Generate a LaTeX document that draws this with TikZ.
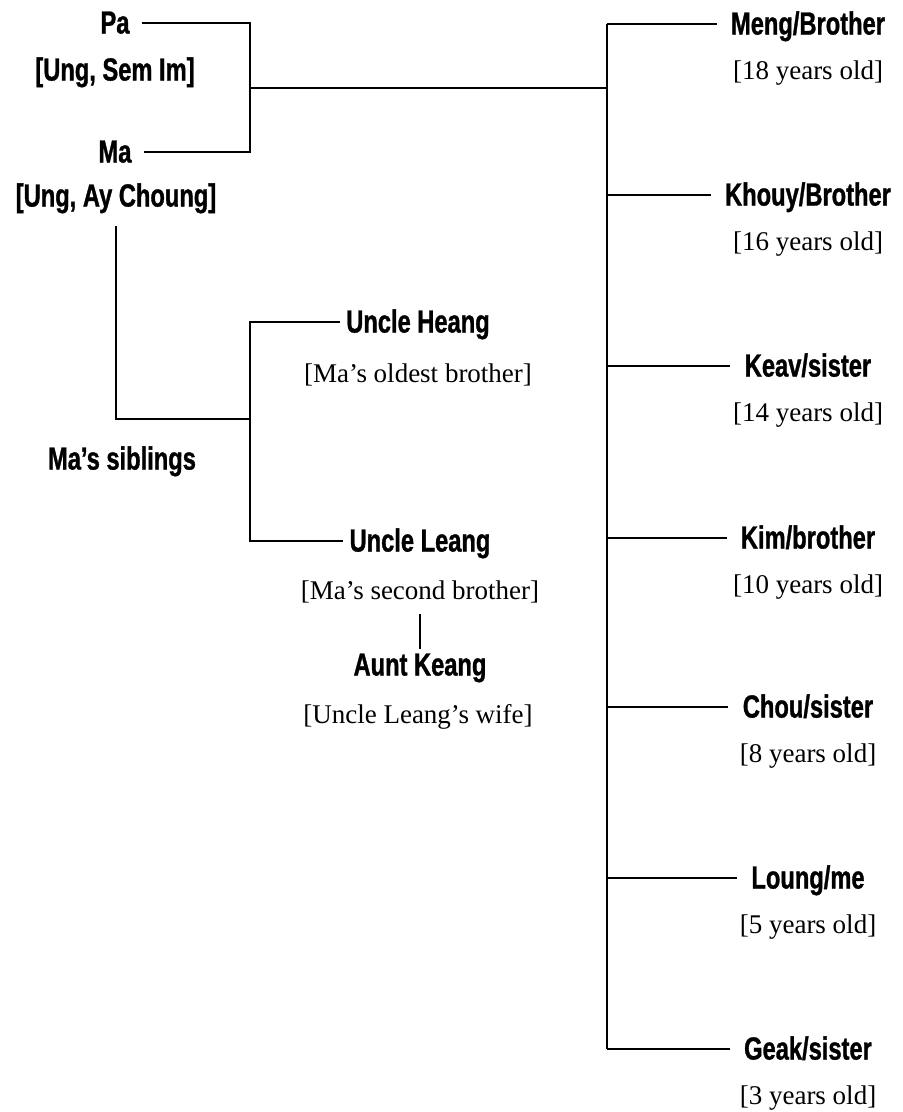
\documentclass[tikz,border=0pt]{standalone}
\usepackage{fontspec}
\setmainfont{Liberation Serif}
\newfontfamily\namefont{Liberation Sans}[FakeStretch=0.74, FakeBold=1]
\usetikzlibrary{
		calc,
		positioning
	}
\tikzset{
		>=stealth,
		who/.style={font=\namefont\bfseries\fontsize{16}{18}\selectfont, inner sep=3pt, text height=2.4ex, text depth=.1ex},
		note/.style={font=\fontsize{13.5}{16}\selectfont, inner sep=3pt},
		tie/.style={line width=1pt}
	}

\begin{document}
\begin{tikzpicture}[x=0.5pt, y=-0.5pt] % one unit = one pixel of the scan, y going down
		\useasboundingbox[fill=white] (0,0) rectangle (902,1112);
		% parents
		\node[who] (pa) at (115,23) {Pa};
		\node[who] (pa2) at (115,70) {[Ung, Sem Im]};
		\node[who] (ma) at (115,152) {Ma};
		\node[who] (ma2) at (116,196) {[Ung, Ay Choung]};
		\coordinate (pj) at (250,88);
		\coordinate (kids) at (607,88);
		\draw[tie] ([xshift=3pt]pa.east) -| (pj) |- ([xshift=3pt]ma.east);
		\draw[tie] (pj) -- (kids);
		% Ma's side
		\node[who] (sibs) at (122,459) {Ma’s siblings};
		\node[who] (heang) at (418,322) {Uncle Heang};
		\node[note] (heang2) at (418,375) {[Ma’s oldest brother]};
		\node[who] (leang) at (420,541) {Uncle Leang};
		\node[note] (leang2) at (420,592) {[Ma’s second brother]};
		\node[who] (keang) at (420,665) {Aunt Keang};
		\node[note] (keang2) at (418,717) {[Uncle Leang’s wife]};
		\coordinate (sj) at (250,419);
		\draw[tie] ([yshift=-6pt]ma2.south) |- (sj);
		\draw[tie] (heang.west) -| (sj) |- (leang.west);
		\draw[tie] ([yshift=-2pt]leang2.south) -- ([yshift=-1pt]keang.north);
		% children
		\foreach \n/\who/\age/\y in {meng/{Meng/Brother}/18/24, khouy/{Khouy/Brother}/16/195, keav/{Keav/sister}/14/366, kim/{Kim/brother}/10/538, chou/{Chou/sister}/8/707, loung/{Loung/me}/5/878, geak/{Geak/sister}/3/1049}{
			\node[who] (\n) at (808,\y) {\who};
			\node[note] (\n-age) at (808,\y+49) {[\age\ years old]};
			\draw[tie, shorten >=4pt] (kids |- \n.west) -- (\n.west);
		}
		\draw[tie] (kids |- meng.west) -- (kids |- geak.west);
	\end{tikzpicture}
\end{document}
